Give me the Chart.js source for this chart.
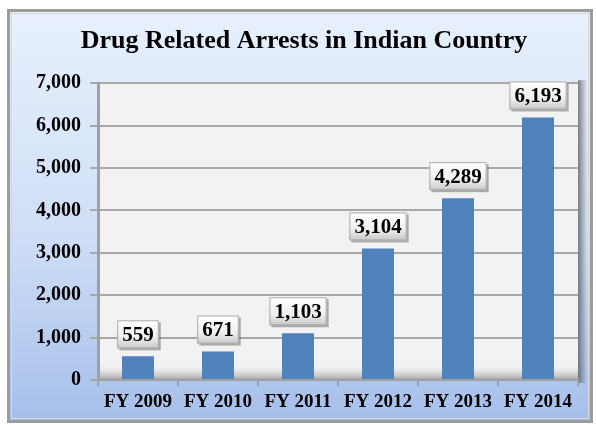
<!DOCTYPE html>
<html>
<head>
<meta charset="utf-8">
<script src="https://cdn.jsdelivr.net/npm/chart.js@4/dist/chart.umd.min.js"></script>
<style>
  html, body { margin: 0; padding: 0; background: #fff; }
  #wrap { width: 596px; height: 425px; position: relative; }
</style>
</head>
<body>
<div id="wrap"><canvas id="chart" width="596" height="425"></canvas></div>
<script>
const years = ['FY 2009', 'FY 2010', 'FY 2011', 'FY 2012', 'FY 2013', 'FY 2014'];
const arrests = [559, 671, 1103, 3104, 4289, 6193];
const chartTitle = 'Drug Related Arrests in Indian Country';
const serif = '"Liberation Serif", "Times New Roman", serif';

// frame, blue backdrop and the grey plot wall
const backdrop = {
  id: 'backdrop',
  beforeDraw(chart) {
    const ctx = chart.ctx;
    const a = chart.chartArea;
    ctx.save();
    ctx.fillStyle = '#fff';
    ctx.fillRect(0, 0, chart.width, chart.height);
    const g = ctx.createLinearGradient(0, 12, 0, 420);
    g.addColorStop(0, '#e8f0fd');
    g.addColorStop(0.55, '#cfdef6');
    g.addColorStop(1, '#a6bfea');
    ctx.fillStyle = g;
    ctx.fillRect(10, 12, 580, 408);
    ctx.strokeStyle = '#9c9c9c';
    ctx.lineWidth = 3;
    ctx.strokeRect(8.5, 10.5, 583, 411);
    ctx.strokeStyle = '#d6d6d6';
    ctx.lineWidth = 1;
    ctx.strokeRect(11.5, 13.5, 577, 405);
    // right wall shadow
    const sh = ctx.createLinearGradient(a.right, 0, a.right + 9, 0);
    sh.addColorStop(0, 'rgba(90,90,90,0.75)');
    sh.addColorStop(1, 'rgba(90,90,90,0)');
    ctx.fillStyle = sh;
    ctx.fillRect(a.right, a.top - 3, 9, a.bottom - a.top + 6);
    ctx.fillStyle = '#f2f2f2';
    ctx.fillRect(a.left, a.top, a.right - a.left, a.bottom - a.top);
    // floor shading
    const fl = ctx.createLinearGradient(0, a.bottom - 16, 0, a.bottom);
    fl.addColorStop(0, 'rgba(242,242,242,0)');
    fl.addColorStop(1, 'rgba(150,150,150,0.9)');
    ctx.fillStyle = fl;
    ctx.fillRect(a.left, a.bottom - 16, a.right - a.left, 16);
    ctx.restore();
  }
};

// boxed value labels above each bar
const valueBoxes = {
  id: 'valueBoxes',
  afterDatasetsDraw(chart) {
    const ctx = chart.ctx;
    const meta = chart.getDatasetMeta(0);
    ctx.save();
    ctx.font = 'bold 21px ' + serif;
    ctx.textAlign = 'center';
    ctx.textBaseline = 'middle';
    meta.data.forEach((bar, i) => {
      const text = arrests[i].toLocaleString('en-US');
      const w = ctx.measureText(text).width + 10;
      const h = 28;
      const x = bar.x - w / 2;
      const y = bar.y - 8 - h;
      ctx.fillStyle = 'rgba(110,110,110,0.55)';
      ctx.fillRect(x + 2, y + 2, w, h);
      const g = ctx.createLinearGradient(0, y, 0, y + h);
      g.addColorStop(0, '#ffffff');
      g.addColorStop(0.6, '#f0f0f0');
      g.addColorStop(1, '#c8c8c8');
      ctx.fillStyle = g;
      ctx.fillRect(x, y, w, h);
      ctx.strokeStyle = '#a8a8a8';
      ctx.lineWidth = 1;
      ctx.strokeRect(x + 0.5, y + 0.5, w - 1, h - 1);
      ctx.fillStyle = '#000';
      ctx.fillText(text, bar.x, y + h / 2 + 1);
    });
    ctx.restore();
  }
};

new Chart(document.getElementById('chart'), {
  type: 'bar',
  data: {
    labels: years,
    datasets: [{
      data: arrests,
      backgroundColor: '#4f81bd',
      categoryPercentage: 1,
      barPercentage: 0.4,
    }],
  },
  plugins: [backdrop, valueBoxes],
  options: {
    responsive: false,
    animation: false,
    layout: { padding: { top: 0, left: 30, right: 18, bottom: 0 } },
    plugins: {
      legend: { display: false },
      tooltip: { enabled: false },
      title: {
        display: true,
        text: chartTitle,
        color: '#000',
        font: { family: serif, size: 26, weight: 'bold' },
        padding: { top: 26, bottom: 26 },
      },
    },
    scales: {
      x: {
        afterFit: (s) => { s.height = 45; },
        grid: { display: true, offset: true, drawOnChartArea: false, tickLength: 6, color: '#a0a0a0', lineWidth: 2 },
        border: { color: '#a0a0a0', width: 2 },
        ticks: { color: '#000', padding: 5, font: { family: serif, size: 19, weight: 'bold' } },
      },
      y: {
        min: 0,
        max: 7000,
        afterFit: (s) => { s.width = 68; },
        grid: { color: '#a8a8a8', lineWidth: 2, tickLength: 8 },
        border: { color: '#a0a0a0', width: 3 },
        ticks: {
          stepSize: 1000,
          color: '#000',
          padding: 9,
          font: { family: serif, size: 20, weight: 'bold' },
          callback: (v) => v.toLocaleString('en-US'),
        },
      },
    },
  },
});
</script>
</body>
</html>
